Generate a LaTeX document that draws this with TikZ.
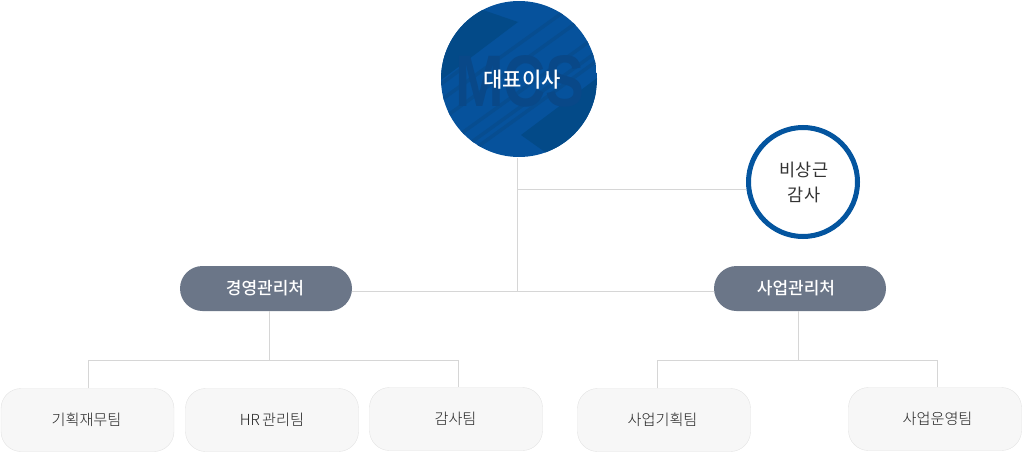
\documentclass[tikz,border=0pt]{standalone}
\usepackage{fontspec}
\setmainfont{Noto Sans CJK KR}
\newfontfamily\markfont{Liberation Sans}
\newfontfamily\lightfont{Noto Sans CJK KR Light}
\newfontfamily\mediumfont{Noto Sans CJK KR Medium}
\definecolor{ceoblue}{HTML}{06529C}
\definecolor{ceodark}{HTML}{034A88}
\definecolor{ceostripe}{HTML}{074D90}
\definecolor{ceomark}{HTML}{094888}
\definecolor{auditblue}{HTML}{04559F}
\definecolor{pillgray}{HTML}{6B7688}
\definecolor{teamfill}{HTML}{F7F7F7}
\definecolor{teamline}{HTML}{E3E3E3}
\definecolor{linkgray}{HTML}{D6D6D6}
\definecolor{textgray}{HTML}{333333}
\definecolor{teamtext}{HTML}{222222}
\usetikzlibrary{shapes.misc}
\tikzset{
	x=1pt, y=-1pt,
	link/.style={draw=linkgray, line width=1pt},
	pill/.style={rounded rectangle, fill=pillgray, text=white, minimum width=172pt, minimum height=45pt, inner sep=0pt, font=\mediumfont\fontsize{17}{20}\selectfont},
	team/.style={draw=teamline, fill=teamfill, rounded corners=20pt, minimum width=173pt, minimum height=63pt, inner sep=0pt, text=teamtext, font=\lightfont\fontsize{15.2}{18}\selectfont},
	stripe/.style={ceostripe, line width=3.5pt}
}
\begin{document}
\begin{tikzpicture}
	\useasboundingbox (0,0) rectangle (1025,452);
	
	% ceo circle
	\begin{scope}
		\clip (519,79) circle (78pt);
		\fill[ceoblue] (441,1) rectangle (597,157);
		\fill[ceodark] (441,80) -- (518,22) -- (483,10) -- (441,10) -- cycle;
		\fill[ceodark] (521,135) -- (597,78) -- (597,157) -- (552,157) -- cycle;
		\foreach \c in {44,64,92,108,117} {
			\draw[stripe] (430,\c+64) -- (610,\c-65.5);
		}
		\draw[stripe] (430,92) -- (460,70);
		\node[text=ceomark, font=\markfont\bfseries\fontsize{73}{73}\selectfont, xscale=0.8] (ceomark) at (520,81) {MCS};
	\end{scope}
	\node[circle, minimum size=156pt, inner sep=0pt, text=white, font=\mediumfont\fontsize{21}{24}\selectfont] (ceo) at (519,80) {\hspace*{6pt}대표이사};
	
	% auditor
	\node[circle, draw=auditblue, fill=white, line width=5pt, minimum size=109pt, inner sep=0pt, align=center, text=textgray, font=\fontsize{17.5}{25}\selectfont] (auditor) at (803,182) {\hspace*{2pt}비상근\\\hspace*{2pt}감사};
	
	% offices
	\node[pill] (mgmt) at (266,288.5) {경영관리처\hspace*{2pt}};
	\node[pill] (biz) at (800,288.5) {사업관리처\hspace*{8pt}};
	
	% teams
	\node[team] (finance) at (87.5,420) {기획재무팀\hspace*{2pt}};
	\node[team] (hr) at (272,420) {HR\hspace{-1pt} 관리팀};
	\node[team] (audit) at (456,419) {감사팀\hspace*{1pt}};
	\node[team] (planning) at (664,420) {사업기획팀\hspace*{3pt}};
	\node[team] (ops) at (935,419) {\hspace*{5pt}사업운영팀};
	
	\coordinate (ceojoin) at (517.5,291.5);
	\coordinate (mgmtdrop) at (269.5,360.5);
	\coordinate (bizdrop) at (798.5,360.5);
	\coordinate (financetop) at (88.5,360.5);
	\coordinate (audittop) at (458.5,360.5);
	\coordinate (planningtop) at (657.5,360.5);
	\coordinate (opstop) at (937.5,360.5);
	
	\draw[link] (ceojoin |- ceo.south) -- (ceojoin);
	\draw[link] (ceojoin |- 0,189.5) -- (auditor.west |- 0,189.5);
	\draw[link] (mgmt.east |- ceojoin) -- (biz.west |- ceojoin);
	\draw[link] (mgmtdrop |- mgmt.south) -- (mgmtdrop);
	\draw[link] (bizdrop |- biz.south) -- (bizdrop);
	\draw[link] (financetop |- finance.north) -- (financetop) -- (audittop) -- (audittop |- audit.north);
	\draw[link] (planningtop |- planning.north) -- (planningtop) -- (opstop) -- (opstop |- ops.north);
\end{tikzpicture}
\end{document}
